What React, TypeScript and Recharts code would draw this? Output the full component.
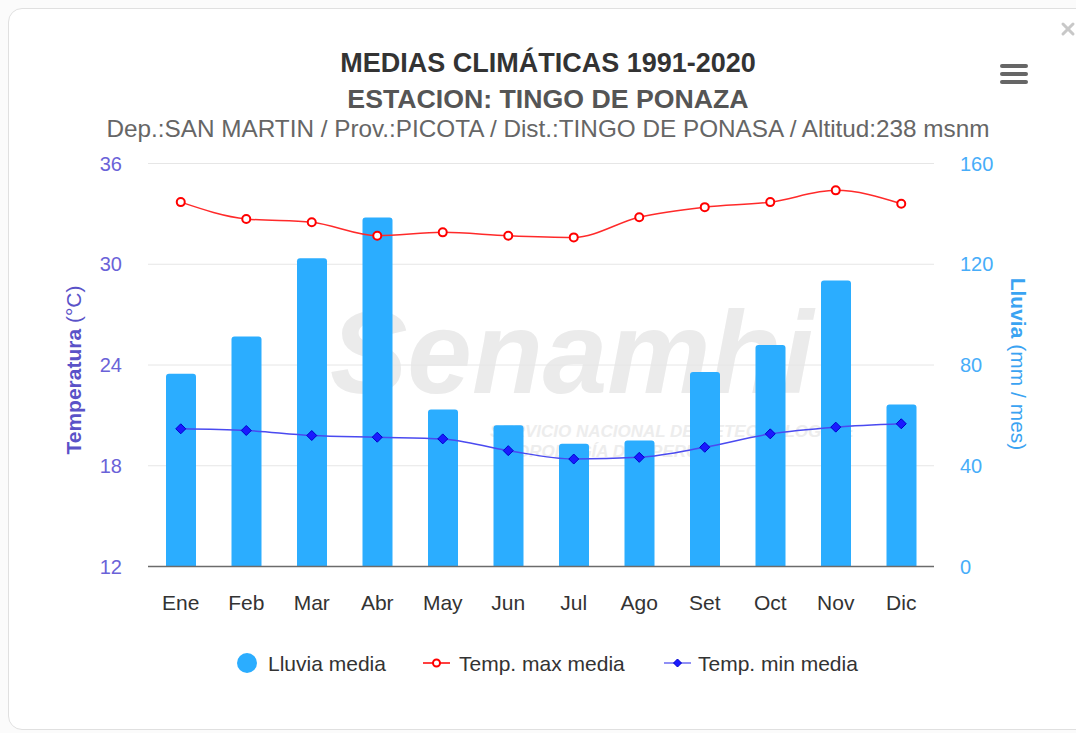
import { Bar, CartesianGrid, ComposedChart, Line, XAxis, YAxis } from "recharts";

const months = ["Ene", "Feb", "Mar", "Abr", "May", "Jun", "Jul", "Ago", "Set", "Oct", "Nov", "Dic"];
const lluviaMedia = [76.5, 91.3, 122.4, 138.6, 62.3, 56.1, 48.7, 50.0, 77.2, 87.9, 113.5, 64.3];
const tempMax = [33.7, 32.7, 32.5, 31.7, 31.9, 31.7, 31.6, 32.8, 33.4, 33.7, 34.4, 33.6];
const tempMin = [20.2, 20.1, 19.8, 19.7, 19.6, 18.9, 18.4, 18.5, 19.1, 19.9, 20.3, 20.5];
const tempTicks = [12, 18, 24, 30, 36];
const rainTicks = [0, 40, 80, 120, 160];

const data = months.map((m, i) => ({
  mes: m,
  lluvia: lluviaMedia[i],
  max: tempMax[i],
  min: tempMin[i],
}));

const FONT = "'Liberation Sans', Arial, Helvetica, sans-serif";
const RAIN = "#2badff";
const TEMP_AXIS = "#6a62d8";
const RAIN_AXIS = "#47adf9";

// open red circle marker
const MaxDot = (props: any) => {
  const { cx, cy, index } = props;
  if (cx == null || cy == null) return null;
  return <circle key={`mx-${index}`} cx={cx} cy={cy} r={4} fill="#fff" stroke="#ff0000" strokeWidth={2} />;
};

// filled blue diamond marker
const MinDot = (props: any) => {
  const { cx, cy, index } = props;
  if (cx == null || cy == null) return null;
  const s = 5;
  return (
    <path
      key={`mn-${index}`}
      d={`M${cx},${cy - s}L${cx + s},${cy}L${cx},${cy + s}L${cx - s},${cy}Z`}
      fill="#1a1aff"
      stroke="#0000cc"
      strokeWidth={1}
    />
  );
};

function Watermark() {
  return (
    <svg width={1076} height={733} style={{ position: "absolute", left: 0, top: 0 }}>
      <text x={330} y={393} fontFamily={FONT} fontSize={116} fontWeight="bold" fontStyle="italic" fill="#ebebeb">
        Senamhi
      </text>
      <text x={490} y={437} fontFamily={FONT} fontSize={17} fontWeight="bold" fontStyle="italic" fill="#ededed">
        SERVICIO NACIONAL DE METEOROLOGÍA E
      </text>
      <text x={500} y={457} fontFamily={FONT} fontSize={17} fontWeight="bold" fontStyle="italic" fill="#ededed">
        HIDROLOGÍA DEL PERÚ
      </text>
    </svg>
  );
}

function Overlay() {
  return (
    <svg width={1076} height={733} style={{ position: "absolute", left: 0, top: 0, pointerEvents: "none" }}>
      <g fontFamily={FONT}>
        <text x={548} y={72} textAnchor="middle" fontSize={27} fontWeight="bold" fill="#333">
          MEDIAS CLIMÁTICAS 1991-2020
        </text>
        <text x={548} y={108} textAnchor="middle" fontSize={26.7} fontWeight="bold" fill="#555">
          ESTACION: TINGO DE PONAZA
        </text>
        <text x={548} y={137} textAnchor="middle" fontSize={24.3} fill="#666">
          Dep.:SAN MARTIN / Prov.:PICOTA / Dist.:TINGO DE PONASA / Altitud:238 msnm
        </text>

        <text transform="translate(81,370) rotate(-90)" textAnchor="middle" fontSize={21} fill="#5a52c8">
          <tspan fontWeight="bold">Temperatura</tspan>
          <tspan> (°C)</tspan>
        </text>
        <text transform="translate(1011,364) rotate(90)" textAnchor="middle" fontSize={21} fill="#3aa3f2">
          <tspan fontWeight="bold">Lluvia</tspan>
          <tspan> (mm / mes)</tspan>
        </text>

        {/* legend */}
        <circle cx={247} cy={663} r={10} fill={RAIN} />
        <text x={268} y={671} fontSize={21} fill="#333">Lluvia media</text>
        <line x1={423} x2={450} y1={663} y2={663} stroke="#ff0000" strokeWidth={1.5} />
        <circle cx={436.5} cy={663} r={3.5} fill="#fff" stroke="#ff0000" strokeWidth={2} />
        <text x={459} y={671} fontSize={21} fill="#333">Temp. max media</text>
        <line x1={664} x2={691} y1={663} y2={663} stroke="#6b6bf2" strokeWidth={1.5} />
        <path d="M677.5,659L681.5,663L677.5,667L673.5,663Z" fill="#1a1aff" stroke="#0000cc" />
        <text x={698} y={671} fontSize={21} fill="#333">Temp. min media</text>
      </g>

      {/* menu + close */}
      <g fill="#666">
        <rect x={1000} y={64} width={28} height={4} rx={2} />
        <rect x={1000} y={72} width={28} height={4} rx={2} />
        <rect x={1000} y={80} width={28} height={4} rx={2} />
      </g>
      <g stroke="#c8c8c8" strokeWidth={3} strokeLinecap="round">
        <line x1={1063} y1={24} x2={1073} y2={34} />
        <line x1={1073} y1={24} x2={1063} y2={34} />
      </g>
    </svg>
  );
}

export default function App() {
  return (
    <div style={{ position: "fixed", left: 0, top: 0, width: 1076, height: 733, background: "#fbfbfb", overflow: "hidden" }}>
      <div
        style={{
          position: "absolute",
          left: 8,
          top: 8,
          width: 1090,
          height: 720,
          background: "#fff",
          borderRadius: 14,
          border: "1px solid #e0e0e0",
        }}
      />
      <Watermark />
      <div style={{ position: "absolute", left: 0, top: 0 }}>
        <ComposedChart
          width={1076}
          height={733}
          data={data}
          margin={{ top: 163.5, right: 82, bottom: 126.5, left: 88 }}
          style={{ fontFamily: FONT }}
        >
          <CartesianGrid yAxisId="left" vertical={false} stroke="#e6e6e6" strokeWidth={1} />
          <XAxis
            dataKey="mes"
            height={40}
            tickLine={false}
            tickSize={0}
            tickMargin={29}
            axisLine={{ stroke: "#6b6b6b", strokeWidth: 1.5 }}
            tick={{ fill: "#333", fontSize: 21 }}
            interval={0}
          />
          <YAxis
            yAxisId="left"
            orientation="left"
            width={60}
            domain={[12, 36]}
            ticks={tempTicks}
            axisLine={false}
            tickLine={false}
            tickSize={0}
            tickMargin={26}
            tick={{ fill: TEMP_AXIS, fontSize: 20 }}
          />
          <YAxis
            yAxisId="right"
            orientation="right"
            width={60}
            domain={[0, 160]}
            ticks={rainTicks}
            axisLine={false}
            tickLine={false}
            tickSize={0}
            tickMargin={26}
            tick={{ fill: RAIN_AXIS, fontSize: 20, textAnchor: "start" }}
          />
          <Bar
            yAxisId="right"
            dataKey="lluvia"
            name="Lluvia media"
            fill={RAIN}
            barSize={30}
            radius={[3, 3, 0, 0]}
            isAnimationActive={false}
          />
          <Line
            yAxisId="left"
            type="monotone"
            dataKey="max"
            name="Temp. max media"
            stroke="#ff2a2a"
            strokeWidth={1.5}
            dot={MaxDot}
            activeDot={false}
            isAnimationActive={false}
          />
          <Line
            yAxisId="left"
            type="monotone"
            dataKey="min"
            name="Temp. min media"
            stroke="#4a4af0"
            strokeWidth={1.5}
            dot={MinDot}
            activeDot={false}
            isAnimationActive={false}
          />
        </ComposedChart>
      </div>
      <Overlay />
    </div>
  );
}
